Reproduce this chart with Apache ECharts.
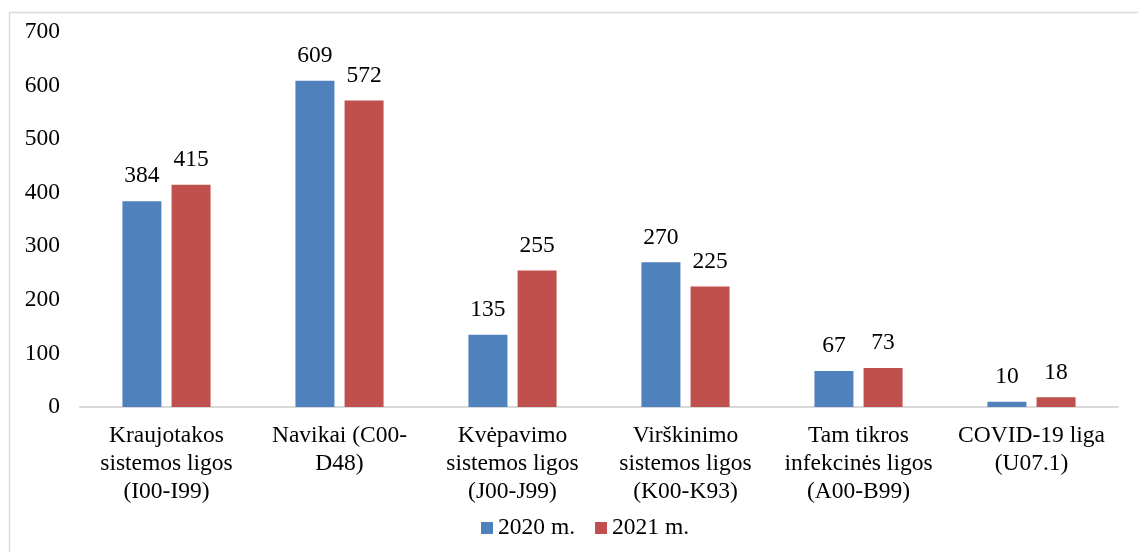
<!DOCTYPE html>
<html>
<head>
<meta charset="utf-8">
<script src="https://cdn.jsdelivr.net/npm/echarts@6/dist/echarts.min.js"></script>
<style>
  html, body { margin: 0; padding: 0; background: #fff; }
  #chart { width: 1138px; height: 552px; }
</style>
</head>
<body>
<div id="chart"></div>
<script>
const categories = [
  "Kraujotakos\nsistemos ligos\n(I00-I99)",
  "Navikai (C00-\nD48)",
  "Kvėpavimo\nsistemos ligos\n(J00-J99)",
  "Virškinimo\nsistemos ligos\n(K00-K93)",
  "Tam tikros\ninfekcinės ligos\n(A00-B99)",
  "COVID-19 liga\n(U07.1)"
];
const values2020 = [384, 609, 135, 270, 67, 10];
const values2021 = [415, 572, 255, 225, 73, 18];
const yTicks = { min: 0, max: 700, interval: 100 };

const font = '"Liberation Serif", "Times New Roman", serif';
const textColor = "#000";

const chart = echarts.init(document.getElementById("chart"));

function barSeries(name, data, color) {
  return {
    name,
    type: "bar",
    data,
    barWidth: 39,
    barGap: "26%",
    itemStyle: { color },
    label: {
      show: true,
      position: "top",
      distance: 13,
      color: textColor,
      fontFamily: font,
      fontSize: 23.5
    }
  };
}

chart.setOption({
  animation: false,
  backgroundColor: "#fff",
  graphic: [
    {
      type: "rect",
      left: 7,
      top: 10,
      shape: { width: 1200, height: 600 },
      style: { fill: "none", stroke: "#d9d9d9", lineWidth: 1.5 },
      silent: true
    }
  ],
  grid: { left: 80, right: 20, top: 32, bottom: 145 },
  legend: {
    top: 511,
    left: 476,
    itemWidth: 12,
    itemHeight: 12,
    itemGap: 20,
    icon: "rect",
    textStyle: { color: textColor, fontFamily: font, fontSize: 23.5 },
    data: ["2020 m.", "2021 m."]
  },
  xAxis: {
    type: "category",
    data: categories,
    axisLine: { lineStyle: { color: "#d9d9d9", width: 2 } },
    axisTick: { show: false },
    axisLabel: {
      interval: 0,
      margin: 15,
      color: textColor,
      fontFamily: font,
      fontSize: 23.5,
      lineHeight: 28
    }
  },
  yAxis: {
    type: "value",
    min: yTicks.min,
    max: yTicks.max,
    interval: yTicks.interval,
    axisLine: { show: false },
    axisTick: { show: false },
    splitLine: { show: false },
    axisLabel: {
      margin: 20,
      color: textColor,
      fontFamily: font,
      fontSize: 23.5
    }
  },
  series: [
    barSeries("2020 m.", values2020, "#4F81BD"),
    barSeries("2021 m.", values2021, "#C0504D")
  ]
});
</script>
</body>
</html>
